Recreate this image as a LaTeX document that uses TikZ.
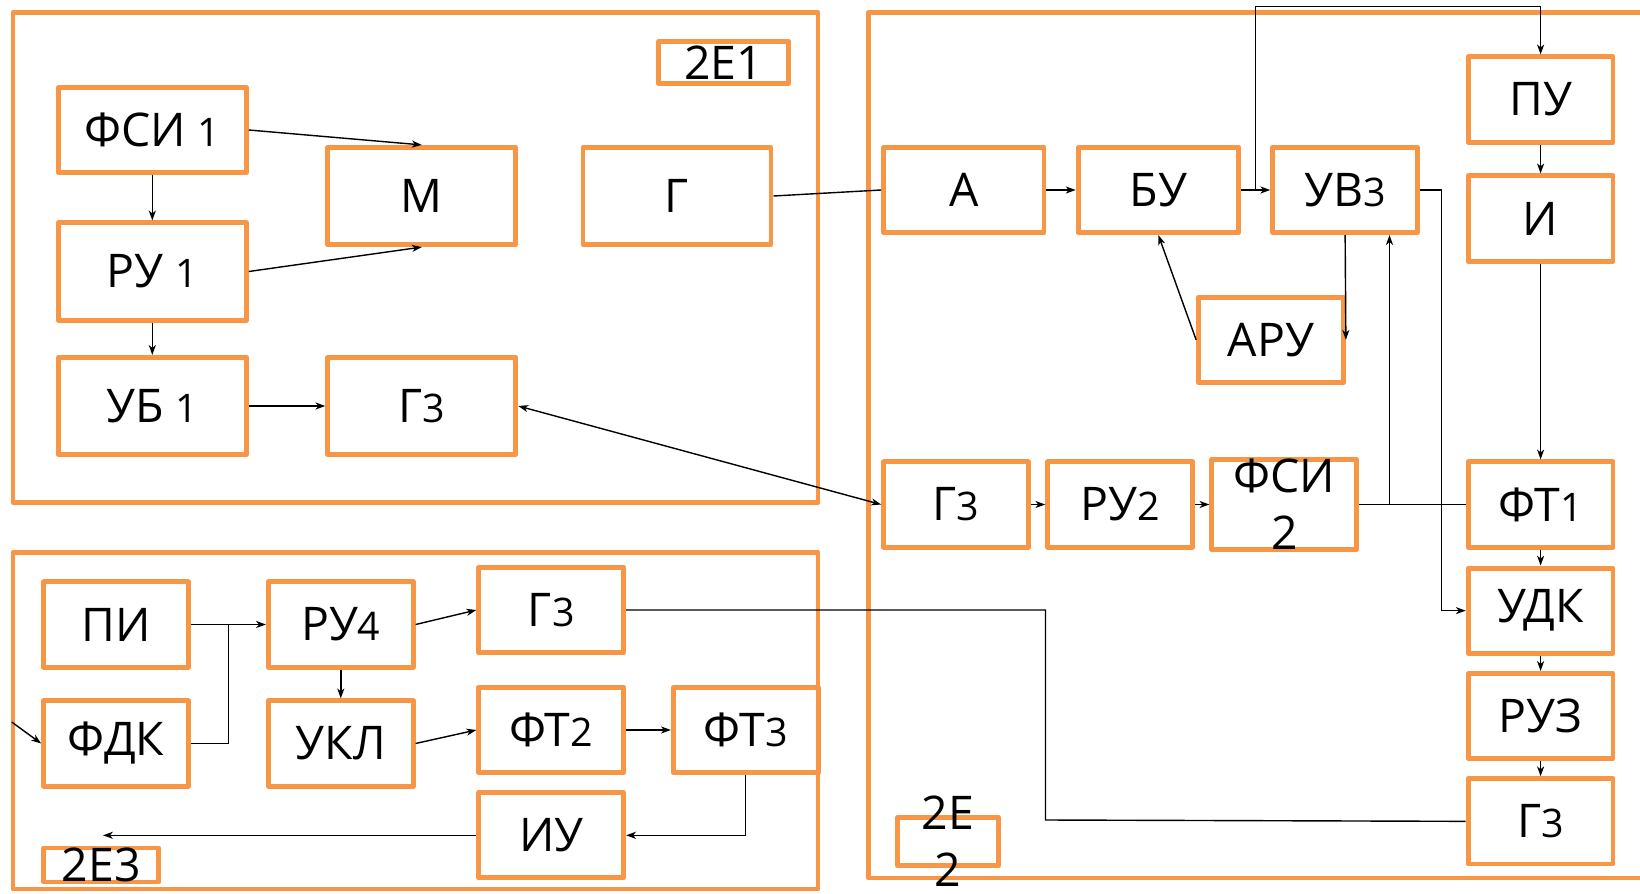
\documentclass[tikz,border=0pt]{standalone}
\usepackage{fontspec}
\setmainfont{Open Sans}
\usetikzlibrary{arrows.meta,positioning,calc}
\definecolor{ramka}{HTML}{F79646}
\newcommand{\nr}[1]{{\fontsize{28}{30}\selectfont #1}}

\begin{document}
\begin{tikzpicture}[x=0.025cm, y=-0.025cm,
  panel/.style={draw=ramka, line width=3.5pt, line join=round},
  blok/.style={draw=ramka, line width=3.5pt, line join=round, fill=white, inner sep=0pt,
    minimum width=3.62cm, minimum height=2.13cm, align=center, font=\fontsize{33}{40.5}\selectfont},
  shir/.style={blok, minimum width=4.7cm, minimum height=2.43cm},
  metka/.style={blok, minimum height=1.05cm},
  flow/.style={-{Stealth[length=7pt, width=5pt, inset=2pt]}, line width=1pt},
  flow2/.style={{Stealth[length=7pt, width=5pt, inset=2pt]}-{Stealth[length=7pt, width=5pt, inset=2pt]}, line width=1pt},
  wire/.style={line width=1pt}]
\useasboundingbox (0,0) rectangle (1640,894);

\draw[panel] (13,12.5) rectangle (818,502.5);
\draw[panel] (1650,12.5) -| (868.5,878) -- (1650,878);
\draw[panel] (13,552.5) rectangle (818,889);

\node[shir, minimum height=2.125cm] (fsi1) at (152.3,130) {ФСИ \nr{1}};
\node[shir] (ru1) at (152.3,271.5) {РУ \nr{1}};
\node[shir] (ub1) at (152.3,406) {УБ \nr{1}};
\node[shir] (mod) at (421.8,196) {М};
\node[shir] (gen) at (677,196) {Г};
\node[shir] (gz1) at (421.8,406) {Г\nr{3}};
\node[metka, minimum width=3.25cm] (lab1) at (723.5,62.5) {2Е1};

\node[blok, minimum width=4.01cm] (a) at (963.8,190) {А};
\node[blok, minimum width=4.01cm, right=0.73cm of a] (bu) {БУ};
\node[blok, right=0.73cm of bu] (uv3) {УВ\nr{3}};
\node[blok] (pu) at (1540.6,99.5) {ПУ};
\node[blok, below=0.72cm of pu] (ii) {И};
\node[blok] (aru) at (1271,339.8) {АРУ};
\node[blok] (gz2) at (956,504.5) {Г\nr{3}};
\node[blok, right=0.36cm of gz2] (ru2) {РУ\nr{2}};
\node[blok, right=0.36cm of ru2] (fsi2) {ФСИ\\2};
\node[blok] (ft1) at (1540.6,504.5) {ФТ\nr{1}};
\node[blok, below=0.4cm of ft1] (udk) {УДК};
\node[blok, below=0.38cm of udk] (ruz) {РУЗ};
\node[blok, below=0.38cm of ruz] (gz3) {Г\nr{3}};
\node[metka, minimum width=2.525cm, inner ysep=-15pt] (lab2) at (948,841.5) {2Е\\2};

\node[blok] (pi) at (116,624.5) {ПИ};
\node[blok, below=0.72cm of pi] (fdk) {ФДК};
\node[blok] (ru4) at (340.8,624.5) {РУ\nr{4}};
\node[blok, below=0.72cm of ru4] (ukl) {УКЛ};
\node[blok] (gz4) at (551.2,610) {Г\nr{3}};
\node[blok] (ft2) at (551.2,730) {ФТ\nr{2}};
\node[blok, right=1.12cm of ft2] (ft3) {ФТ\nr{3}};
\node[blok] (iu) at (551.2,835.3) {ИУ};
\node[metka, minimum width=2.875cm, minimum height=0.67cm] (lab3) at (101.4,865) {2Е3};

\coordinate (tap) at ($(bu.east)!0.5!(uv3.west)$);
\coordinate (tap2) at ($(fsi2.east)+(30.3,0)$);
\coordinate (join) at ($(pi.east)!0.5!(ru4.west)$);
\coordinate (ytop) at (0,6.5);
\coordinate (bend) at (1045.5,820);
\coordinate (fdkin) at (11.7,722);
\coordinate (iuout) at (103,835.3);

\draw[flow] (fsi1.east) -- (mod.north);
\draw[flow] (ru1.east) -- (mod.south);
\draw[flow] (fsi1) -- (ru1);
\draw[flow] (ru1) -- (ub1);
\draw[flow] (ub1) -- (gz1);
\draw[wire] (gen.east) -- (a.west);
\draw[flow2] (gz1.east) -- (gz2.west);

\draw[flow] (a) -- (bu);
\draw[flow] (bu) -- (uv3);
\draw[flow] (tap) |- (pu.north |- ytop) -- (pu.north);
\draw[flow] (pu) -- (ii);
\draw[flow] (ii) -- (ft1);
\draw[flow] (uv3.east) -- ++(21.7,0) |- (udk.west);
\draw[flow] (uv3.south) -- (aru.east);
\draw[flow] (aru.west) -- (bu.south);
\draw[flow] (gz2) -- (ru2);
\draw[flow] (ru2) -- (fsi2);
\draw[wire] (fsi2.east) -- (ft1.west);
\draw[flow] (tap2) -- (tap2 |- uv3.south);
\draw[flow] (ft1) -- (udk);
\draw[flow] (udk) -- (ruz);
\draw[flow] (ruz) -- (gz3);
\draw[wire] (gz4.east) -| (bend) -- (gz3.west);

\draw[flow] (pi) -- (ru4);
\draw[wire] (fdk.east) -| (join);
\draw[flow] (fdkin) -- (fdk.west);
\draw[flow] (ru4) -- (ukl);
\draw[flow] (ru4.east) -- (gz4.west);
\draw[flow] (ukl.east) -- (ft2.west);
\draw[flow] (ft2) -- (ft3);
\draw[flow] (ft3.south) |- (iu.east);
\draw[flow] (iu.west) -- (iuout);
\end{tikzpicture}
\end{document}
